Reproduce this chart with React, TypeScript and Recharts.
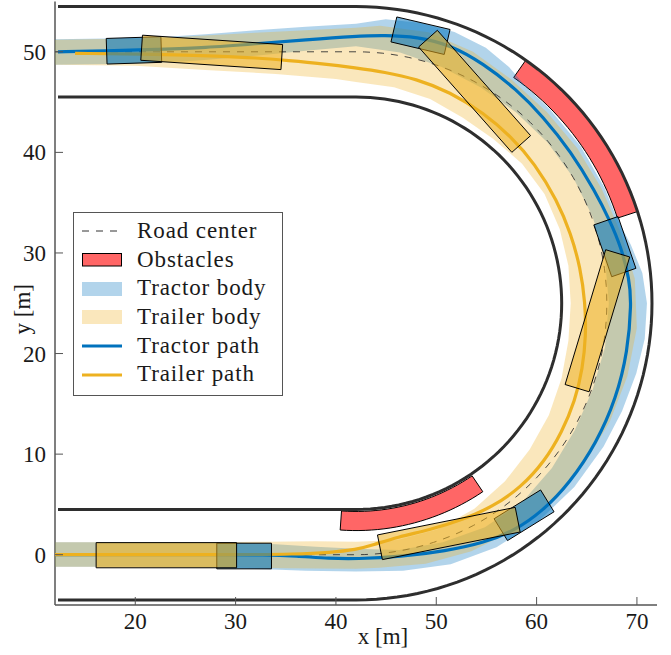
import { ScatterChart, Scatter, XAxis, YAxis, Legend } from "recharts";

type XY = [number, number];
type Pose = [number, number, number]; // x, y, heading (deg)

const X_TICKS = [20, 30, 40, 50, 60, 70];
const Y_TICKS = [0, 10, 20, 30, 40, 50];

// road: two straight legs joined by a half circle
const ROAD_CX = 42;
const ROAD_CY = 25;
const ROAD_X0 = 12.3;
const ROAD_INNER_R = 20.5;
const ROAD_CENTER_R = 25;
const ROAD_OUTER_R = 29.5;

// obstacles as ring sectors: r from, r to, angle from, angle to (deg)
const OBSTACLES: [number, number, number, number][] = [
  [27.4, 29.5, 18, 55],
  [20.7, 22.6, -94, -56],
];

const TRACTOR_PATH: XY[] = [
  [12, 0], [20, 0], [28, 0], [33, 0], [36, -0.12], [39.4, -0.38], [42, -0.42],
  [46.45, -0.21], [50.96, 0.38], [54.68, 1.16], [57.83, 2.39], [60.6, 4.34],
  [63.3, 7.13], [65.99, 11.15], [67.94, 15.56], [69.08, 20.22], [69.45, 25],
  [69.25, 27.38], [68.41, 30.61], [67.3, 33.22], [65.84, 36.11], [63.46, 40.03],
  [60.6, 43.6], [58.01, 46.24], [54.68, 48.84], [51.35, 50.7], [48.12, 51.5],
  [44.8, 51.65], [42, 51.56], [37, 51.2], [32, 50.8], [27, 50.4], [22, 50.24],
  [17, 50.07], [12.3, 50.0],
];

const TRAILER_PATH: XY[] = [
  [12, 0], [20, 0], [30, 0], [36, 0.05], [39.5, 0.22], [42, 0.5], [43.68, 0.96],
  [46.1, 1.76], [49.32, 2.46], [52.52, 3.43], [55.64, 4.77], [58.46, 6.72],
  [60.77, 9.25], [62.52, 12.18], [63.83, 15.28], [64.59, 18.52], [64.92, 21.78],
  [64.85, 25], [64.37, 28.54], [63.4, 31.95], [62.05, 35.21], [59.81, 38.91],
  [57.45, 41.57], [54.75, 43.9], [51.35, 46.01], [47.98, 47.31], [44.82, 47.99],
  [42, 48.4], [38.6, 48.82], [35.3, 49.12], [32, 49.4], [28.6, 49.57],
  [22, 49.77], [14, 49.84],
];

// swept areas: outer edge (top-left -> bottom-left), then inner edge back
const TRACTOR_SWEPT_OUTER: XY[] = [
  [12, 51.25], [17, 51.33], [22, 51.42], [27, 51.75], [32, 52.15], [37, 52.5],
  [42, 52.8], [44.97, 53.24], [48.43, 52.87], [51.82, 51.97], [54.94, 50.39],
  [57.25, 48.48], [58.87, 46.59], [61.3, 44.3], [64.36, 40.66], [66.74, 36.54],
  [68.01, 33.45], [69.39, 30.82], [70.54, 28.0], [71.0, 25], [70.78, 21.47],
  [69.94, 18.03], [68.52, 14.29], [66.68, 10.75], [63.76, 6.74], [60.19, 3.32],
  [56.0, 0.75], [51.44, -0.94], [46.69, -1.59], [42, -1.68], [37, -1.6],
  [33, -1.45], [28, -1.3], [20, -1.2], [12, -1.2],
];
const TRACTOR_SWEPT_INNER: XY[] = [
  [12, 1.25], [20, 1.25], [30, 1.22], [34, 1.05], [38, 0.78], [42, 0.6],
  [46.32, 0.48], [50.65, 1.23], [54.85, 2.74], [58.58, 5.24], [61.53, 8.61],
  [63.82, 12.4], [65.59, 16.42], [66.82, 20.62], [67.2, 25], [66.82, 29.38],
  [65.59, 33.58], [63.65, 37.5], [61.07, 41.01], [57.94, 44.0], [54.4, 46.48],
  [50.55, 48.49], [46.39, 49.92], [42, 50.55], [37, 50.1], [32, 49.6],
  [26, 49.1], [20, 48.8], [12, 48.7],
];
const TRAILER_SWEPT_OUTER: XY[] = [
  [12, 51.2], [22, 51.35], [32, 51.9], [42, 52.4], [44.41, 52.59], [49.22, 51.95],
  [53.66, 50.01], [57.54, 47.2], [61.02, 44.02], [64.04, 40.43], [66.47, 36.41],
  [68.37, 32.07], [69.79, 27.43], [69.99, 22.55], [69.05, 17.75], [67.29, 13.21],
  [64.77, 9.05], [61.59, 5.41], [57.77, 2.47], [53.5, 0.35], [48.94, -0.89],
  [44.3, -1.3], [42, -1.4], [35, -1.35], [28, -1.25], [20, -1.2], [12, -1.2],
];
const TRAILER_SWEPT_INNER: XY[] = [
  [12, 1.25], [20, 1.25], [28, 1.25], [33, 1.3], [38, 1.35], [42, 1.3],
  [46.15, 1.46], [50.17, 2.54], [53.8, 4.56], [56.85, 7.3], [59.31, 10.47],
  [61.23, 13.9], [62.49, 17.54], [63.17, 21.27], [63.4, 25], [63.17, 28.73],
  [62.3, 32.39], [60.79, 35.85], [58.55, 38.88], [55.69, 41.32], [52.65, 43.45],
  [49.39, 45.3], [45.79, 46.47], [42, 47.0], [40, 47.3], [34, 47.8], [27, 48.2],
  [20, 48.6], [12, 48.7],
];

// body snapshots
const TRACTOR_POSES: Pose[] = [
  [30.85, -0.13, 0], [58.75, 3.92, 31.7], [67.8, 30.63, 109.1],
  [48.43, 51.6, 166.8], [19.87, 50.14, 181.8],
];
const TRAILER_POSES: Pose[] = [
  [23.1, -0.05, 0], [51.25, 2.11, 11.3], [66.06, 23.26, 73.2],
  [53.82, 46.07, 131.6], [27.62, 49.94, 176.2],
];
const TRACTOR_SIZE: XY = [5.45, 2.55];
const TRAILER_SIZE: XY = [14, 2.5];

const LEGEND_LABELS = [
  "Road center",
  "Obstacles",
  "Tractor body",
  "Trailer body",
  "Tractor path",
  "Trailer path",
];

const BLUE = "#0072BD";
const YELLOW = "#EDB120";
const RED = "#FF0000";
const ROAD = "#2e2e2e";
const AXIS = "#555";
const TEXT = "#1a1a1a";
const FONT = '"Liberation Serif", "Times New Roman", serif';

const toPts = (list: XY[]) => list.map(([x, y]) => ({ x, y }));

function roadLine(r: number, x0: number) {
  const pts = [{ x: x0, y: ROAD_CY + r }];
  for (let a = 90; a >= -90; a -= 2) {
    const t = (a * Math.PI) / 180;
    pts.push({ x: ROAD_CX + r * Math.cos(t), y: ROAD_CY + r * Math.sin(t) });
  }
  pts.push({ x: x0, y: ROAD_CY - r });
  return pts;
}

function ringSector([r0, r1, a0, a1]: [number, number, number, number]) {
  const pts: { x: number; y: number }[] = [];
  const n = 24;
  for (let i = 0; i <= n; i++) {
    const t = ((a0 + ((a1 - a0) * i) / n) * Math.PI) / 180;
    pts.push({ x: ROAD_CX + r1 * Math.cos(t), y: ROAD_CY + r1 * Math.sin(t) });
  }
  for (let i = n; i >= 0; i--) {
    const t = ((a0 + ((a1 - a0) * i) / n) * Math.PI) / 180;
    pts.push({ x: ROAD_CX + r0 * Math.cos(t), y: ROAD_CY + r0 * Math.sin(t) });
  }
  return pts;
}

function bodyCorners([cx, cy, deg]: Pose, [len, wid]: XY) {
  const a = (deg * Math.PI) / 180;
  const ux = Math.cos(a);
  const uy = Math.sin(a);
  const hl = len / 2;
  const hw = wid / 2;
  return [
    { x: cx + ux * hl - uy * hw, y: cy + uy * hl + ux * hw },
    { x: cx + ux * hl + uy * hw, y: cy + uy * hl - ux * hw },
    { x: cx - ux * hl + uy * hw, y: cy - uy * hl - ux * hw },
    { x: cx - ux * hl - uy * hw, y: cy - uy * hl + ux * hw },
  ];
}

const NoDot = () => <g />;

function XTick(props: any) {
  const { x, y, payload } = props;
  return (
    <g>
      <line x1={x} x2={x} y1={y} y2={y - 8} stroke={AXIS} strokeWidth={1} />
      <text x={x} y={y + 24} textAnchor="middle" fontFamily={FONT} fontSize={23} fill={TEXT}>
        {payload.value}
      </text>
    </g>
  );
}

function YTick(props: any) {
  const { x, y, payload } = props;
  return (
    <g>
      <line x1={x} x2={x + 8} y1={y} y2={y} stroke={AXIS} strokeWidth={1} />
      <text x={x - 9} y={y + 8} textAnchor="end" fontFamily={FONT} fontSize={23} fill={TEXT}>
        {payload.value}
      </text>
    </g>
  );
}

function XLabel(props: any) {
  const { x, y, width, height } = props.viewBox;
  return (
    <text x={x + width / 2 + 27} y={y + height - 11} textAnchor="middle" fontFamily={FONT} fontSize={23} fill={TEXT}>
      x [m]
    </text>
  );
}

function YLabel(props: any) {
  const { y, height } = props.viewBox;
  const cx = 22.5;
  const cy = y + height / 2 + 6;
  return (
    <text
      x={cx}
      y={cy}
      transform={`rotate(-90, ${cx}, ${cy})`}
      textAnchor="middle"
      dominantBaseline="central"
      fontFamily={FONT}
      fontSize={23}
      fill={TEXT}
    >
      y [m]
    </text>
  );
}

function LegendSymbol({ index }: { index: number }) {
  switch (index) {
    case 0:
      return <line x1={0} x2={40} y1={8} y2={8} stroke="#333" strokeWidth={1} strokeDasharray="7 7" />;
    case 1:
      return <rect x={0.5} y={1.5} width={39} height={12.5} fill={RED} fillOpacity={0.6} stroke="#000" strokeWidth={1} />;
    case 2:
      return <rect x={0} y={1} width={40} height={14} fill={BLUE} fillOpacity={0.3} />;
    case 3:
      return <rect x={0} y={1} width={40} height={14} fill={YELLOW} fillOpacity={0.3} />;
    case 4:
      return <line x1={0} x2={40} y1={8} y2={8} stroke={BLUE} strokeWidth={3} />;
    default:
      return <line x1={0} x2={40} y1={8} y2={8} stroke={YELLOW} strokeWidth={3} />;
  }
}

function LegendBox() {
  return (
    <div
      style={{
        boxSizing: "border-box",
        width: 210,
        height: 184,
        border: `1px solid ${AXIS}`,
        background: "#fff",
        paddingTop: 4,
        fontFamily: FONT,
        fontSize: 23,
        color: TEXT,
      }}
    >
      {LEGEND_LABELS.map((label, i) => (
        <div key={label} style={{ display: "flex", alignItems: "center", height: 28.7 }}>
          <svg width={40} height={16} style={{ marginLeft: 8, marginRight: 15, flex: "none" }}>
            <LegendSymbol index={i} />
          </svg>
          <span style={{ lineHeight: "28.7px", whiteSpace: "nowrap", letterSpacing: 0.9 }}>{label}</span>
        </div>
      ))}
    </div>
  );
}

export default function App() {
  const tractorSwept = toPts([...TRACTOR_SWEPT_OUTER, ...TRACTOR_SWEPT_INNER]);
  const trailerSwept = toPts([...TRAILER_SWEPT_OUTER, ...TRAILER_SWEPT_INNER]);

  return (
    <div style={{ width: 671, height: 655, background: "#fff" }}>
      <style>{"body{margin:0;background:#fff}"}</style>
      <ScatterChart width={671} height={655} margin={{ top: 1.5, right: 14, bottom: 0, left: 0 }}>
        <XAxis
          type="number"
          dataKey="x"
          domain={[12, 72]}
          ticks={X_TICKS}
          interval={0}
          allowDataOverflow
          height={50}
          tickSize={0}
          tickMargin={0}
          tickLine={false}
          axisLine={{ stroke: AXIS, strokeWidth: 1.5 }}
          tick={XTick}
          label={{ position: "insideBottom", content: XLabel }}
        />
        <YAxis
          type="number"
          dataKey="y"
          domain={[-5, 55]}
          ticks={Y_TICKS}
          interval={0}
          allowDataOverflow
          width={55}
          tickSize={0}
          tickMargin={0}
          tickLine={false}
          axisLine={{ stroke: AXIS, strokeWidth: 1.5 }}
          tick={YTick}
          label={{ position: "insideLeft", content: YLabel }}
        />

        {OBSTACLES.map((ob, i) => (
          <Scatter
            key={`ob-${i}`}
            data={ringSector(ob)}
            shape={NoDot}
            line={{ fill: RED, fillOpacity: 0.6, stroke: "#000", strokeWidth: 1 }}
            lineJointType="linearClosed"
            legendType="none"
            isAnimationActive={false}
          />
        ))}

        <Scatter
          data={tractorSwept}
          shape={NoDot}
          line={{ fill: BLUE, fillOpacity: 0.3, stroke: "none" }}
          lineJointType="linearClosed"
          legendType="none"
          isAnimationActive={false}
        />
        <Scatter
          data={trailerSwept}
          shape={NoDot}
          line={{ fill: YELLOW, fillOpacity: 0.3, stroke: "none" }}
          lineJointType="linearClosed"
          legendType="none"
          isAnimationActive={false}
        />

        {[ROAD_INNER_R, ROAD_OUTER_R].map((r) => (
          <Scatter
            key={`road-${r}`}
            data={roadLine(r, ROAD_X0)}
            shape={NoDot}
            line={{ stroke: ROAD, strokeWidth: 3, fill: "none" }}
            lineJointType="linear"
            legendType="none"
            isAnimationActive={false}
          />
        ))}
        <Scatter
          data={roadLine(ROAD_CENTER_R, 12)}
          shape={NoDot}
          line={{ stroke: "#333", strokeWidth: 0.9, strokeDasharray: "7 7", fill: "none" }}
          lineJointType="linear"
          legendType="none"
          isAnimationActive={false}
        />

        <Scatter
          data={toPts(TRACTOR_PATH)}
          shape={NoDot}
          line={{ stroke: BLUE, strokeWidth: 3.2, fill: "none" }}
          lineJointType="basis"
          legendType="none"
          isAnimationActive={false}
        />
        <Scatter
          data={toPts(TRAILER_PATH)}
          shape={NoDot}
          line={{ stroke: YELLOW, strokeWidth: 3.2, fill: "none" }}
          lineJointType="basis"
          legendType="none"
          isAnimationActive={false}
        />

        {TRACTOR_POSES.map((p, i) => (
          <Scatter
            key={`tractor-${i}`}
            data={bodyCorners(p, TRACTOR_SIZE)}
            shape={NoDot}
            line={{ fill: BLUE, fillOpacity: 0.55, stroke: "#000", strokeWidth: 1 }}
            lineJointType="linearClosed"
            legendType="none"
            isAnimationActive={false}
          />
        ))}
        {TRAILER_POSES.map((p, i) => (
          <Scatter
            key={`trailer-${i}`}
            data={bodyCorners(p, TRAILER_SIZE)}
            shape={NoDot}
            line={{ fill: YELLOW, fillOpacity: 0.55, stroke: "#000", strokeWidth: 1 }}
            lineJointType="linearClosed"
            legendType="none"
            isAnimationActive={false}
          />
        ))}

        <Legend
          layout="vertical"
          align="center"
          verticalAlign="middle"
          content={LegendBox}
          wrapperStyle={{ left: 73, top: 212, width: 210, height: 184 }}
        />
      </ScatterChart>
    </div>
  );
}
